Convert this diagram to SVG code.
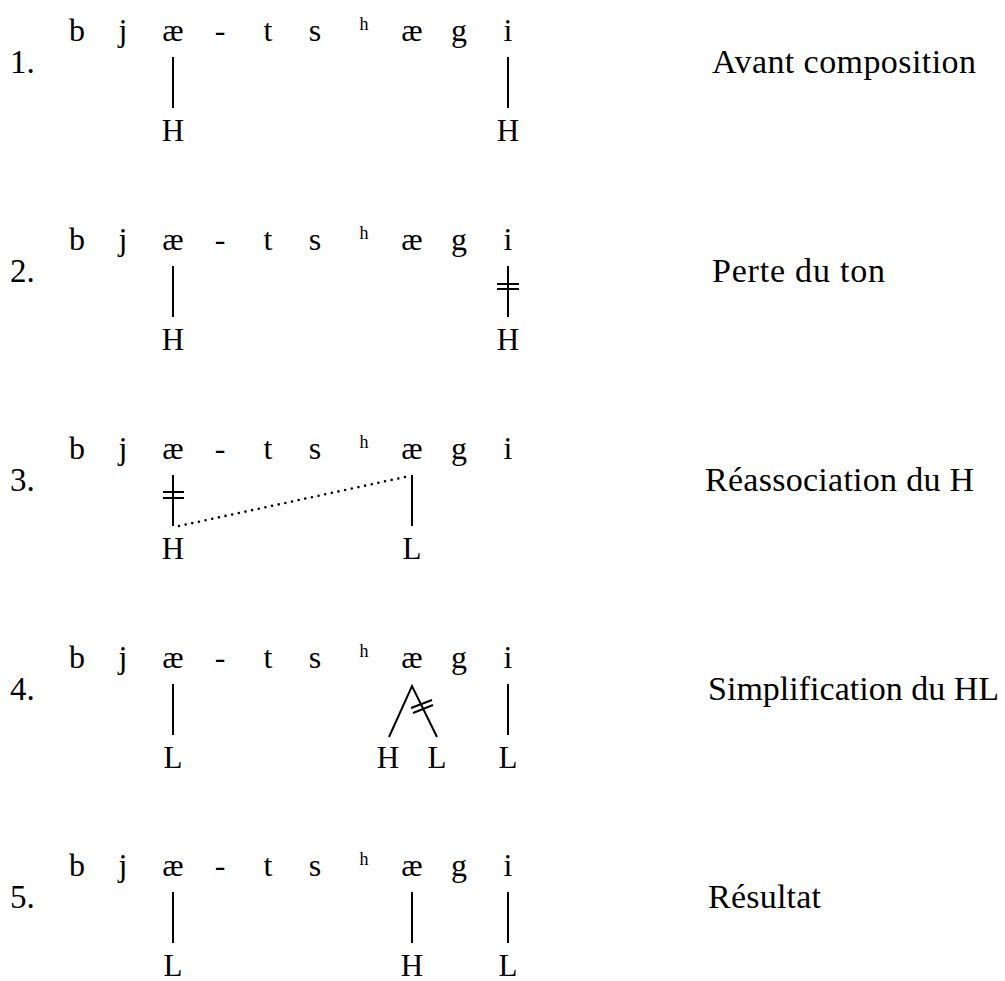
<svg xmlns="http://www.w3.org/2000/svg" width="1005" height="981" viewBox="0 0 1005 981">
<style>
text{font-family:"Liberation Serif","Times New Roman",serif;fill:#000}
.s{font-size:32px;text-anchor:middle}
.sup{font-size:18px;text-anchor:middle}
.t{font-size:31px;text-anchor:middle}
.n{font-size:33px}
.lab{font-size:34px}
.ln{stroke:#000;stroke-width:2;fill:none}
.dot{stroke:#000;stroke-width:2.6;stroke-linecap:round;stroke-dasharray:0 6.8;fill:none}
</style>
<defs>
<g id="seg">
<text class="s" x="77" y="0">b</text>
<text class="s" x="123" y="0">j</text>
<text class="s" x="173" y="0">æ</text>
<text class="s" x="220" y="0">-</text>
<text class="s" x="268" y="0">t</text>
<text class="s" x="315" y="0">s</text>
<text class="sup" x="364" y="-11">h</text>
<text class="s" x="412" y="0">æ</text>
<text class="s" x="459" y="0">g</text>
<text class="s" x="508" y="0">i</text>
</g>
</defs>
<g id="row1" transform="translate(0,41)">
<text class="n" x="10" y="32">1.</text>
<use href="#seg"/>
<text class="t" x="173" y="100">H</text>
<text class="t" x="508" y="100">H</text>
<text class="lab" x="712" y="32" textLength="264" lengthAdjust="spacing">Avant composition</text>
</g>
<g id="row2" transform="translate(0,250)">
<text class="n" x="10" y="32">2.</text>
<use href="#seg"/>
<text class="t" x="173" y="100">H</text>
<text class="t" x="508" y="100">H</text>
<text class="lab" x="712" y="32" textLength="173" lengthAdjust="spacing">Perte du ton</text>
</g>
<g id="row3" transform="translate(0,459)">
<text class="n" x="10" y="32">3.</text>
<use href="#seg"/>
<text class="t" x="173" y="100">H</text>
<text class="t" x="412" y="100">L</text>
<text class="lab" x="705" y="32" textLength="269" lengthAdjust="spacing">Réassociation du H</text>
</g>
<g id="row4" transform="translate(0,668)">
<text class="n" x="10" y="32">4.</text>
<use href="#seg"/>
<text class="t" x="173" y="100">L</text>
<text class="t" x="388" y="100">H</text>
<text class="t" x="437" y="100">L</text>
<text class="t" x="508" y="100">L</text>
<text class="lab" x="708" y="32" textLength="291" lengthAdjust="spacing">Simplification du HL</text>
</g>
<g id="row5" transform="translate(0,876)">
<text class="n" x="10" y="32">5.</text>
<use href="#seg"/>
<text class="t" x="173" y="100">L</text>
<text class="t" x="412" y="100">H</text>
<text class="t" x="508" y="100">L</text>
<text class="lab" x="708" y="32" textLength="113" lengthAdjust="spacing">Résultat</text>
</g>
<g id="connectors">
<g transform="translate(0,41)">
<path class="ln" d="M173 16V67M508 16V67"/>
</g>
<g transform="translate(0,250)">
<path class="ln" d="M173 16V67M508 16V67M497 34H519M497 39H519"/>
</g>
<g transform="translate(0,459)">
<path class="ln" d="M173 16V67M163 33H184M163 39H184M412 16V67"/>
<path class="dot" d="M179 67L405 18"/>
</g>
<g transform="translate(0,668)">
<path class="ln" d="M173 16V67M389 69L412 18L437 69M411 40L432 32M413 45L433 37M508 16V67"/>
</g>
<g transform="translate(0,876)">
<path class="ln" d="M173 16V67M412 16V67M508 16V67"/>
</g>
</g>
</svg>
